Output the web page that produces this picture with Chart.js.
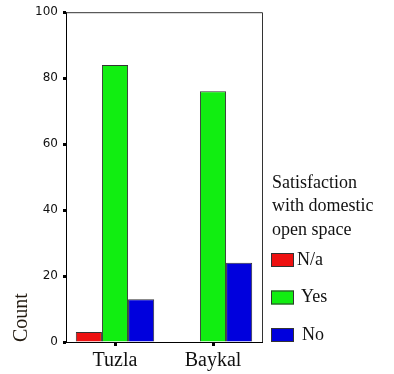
<!DOCTYPE html>
<html>
<head>
<meta charset="utf-8">
<script src="https://cdn.jsdelivr.net/npm/chart.js@4.4.1/dist/chart.umd.min.js"></script>
<style>
  html, body { margin: 0; padding: 0; background: #fff; }
  #wrap { position: relative; width: 394px; height: 374px; }
</style>
</head>
<body>
<div id="wrap"><canvas id="chart" width="394" height="374"></canvas></div>
<script>
// === grouped bar chart: satisfaction counts per site ===

const sites = ['Tuzla', 'Baykal'];
const naCounts = [3, 0];
const yesCounts = [84, 76];
const noCounts = [13, 24];
const yTicks = [0, 20, 40, 60, 80, 100];
const legendTitle = ['Satisfaction', 'with domestic', 'open space'];

const serif = "'Liberation Serif', 'Times New Roman', serif";

// frame on top/right + custom legend on the right side
const framePlugin = {
  id: 'frame',
  afterDraw(chart) {
    const { ctx, chartArea: a } = chart;
    ctx.save();
    ctx.strokeStyle = '#333';
    ctx.lineWidth = 1;
    ctx.beginPath();
    ctx.moveTo(a.left, a.top + 0.5);
    ctx.lineTo(a.right + 0.5, a.top + 0.5);
    ctx.lineTo(a.right + 0.5, a.bottom);
    ctx.stroke();

    // legend
    const x = a.right + 10;
    ctx.fillStyle = '#111';
    ctx.font = '18px ' + serif;
    ctx.textBaseline = 'middle';
    legendTitle.forEach((t, i) => ctx.fillText(t, x, 183 + i * 23.5));
    const textDx = [3, 7, 8];
    chart.data.datasets.forEach((ds, i) => {
      const y = 260 + i * 37.5;
      ctx.fillStyle = ds.backgroundColor;
      ctx.fillRect(x - 1, y - 7, 23, 14);
      ctx.strokeStyle = '#333';
      ctx.strokeRect(x - 0.5, y - 6.5, 22, 13);
      ctx.fillStyle = '#111';
      ctx.fillText(ds.label, x + 22 + textDx[i], y);
    });
    ctx.restore();
  }
};

new Chart(document.getElementById('chart'), {
  type: 'bar',
  data: {
    labels: sites,
    datasets: [
      { label: 'N/a', data: naCounts, backgroundColor: '#ee1111' },
      { label: 'Yes', data: yesCounts, backgroundColor: '#11ee11' },
      { label: 'No', data: noCounts, backgroundColor: '#0000dd' }
    ].map(d => Object.assign(d, { borderColor: '#333', borderWidth: 1, categoryPercentage: 0.8, barPercentage: 1.0 }))
  },
  options: {
    responsive: false,
    animation: false,
    layout: { padding: { top: 11, right: 132, left: 0, bottom: 0 } },
    plugins: { legend: { display: false }, tooltip: { enabled: false } },
    scales: {
      x: {
        grid: { display: true, drawOnChartArea: false, offset: false, tickLength: 4, tickWidth: 3, color: '#000' },
        border: { color: '#000', width: 1 },
        ticks: { color: '#111', font: { family: serif, size: 20 }, padding: 3 },
        afterFit: s => { s.height = 32; }
      },
      y: {
        min: 0, max: 100,
        afterBuildTicks: s => { s.ticks = yTicks.map(v => ({ value: v })); },
        grid: { display: true, drawOnChartArea: false, tickLength: 3, tickWidth: 3, color: '#000' },
        border: { color: '#000', width: 1 },
        ticks: { color: '#111', font: { family: "'DejaVu Sans', Verdana, sans-serif", size: 12 }, padding: 5 },
        title: { display: true, text: 'Count', align: 'start', color: '#221a10', font: { family: serif, size: 20 }, padding: { top: 10, bottom: 0 } },
        afterFit: s => { s.width = 66; }
      }
    }
  },
  plugins: [framePlugin]
});
</script>
</body>
</html>
